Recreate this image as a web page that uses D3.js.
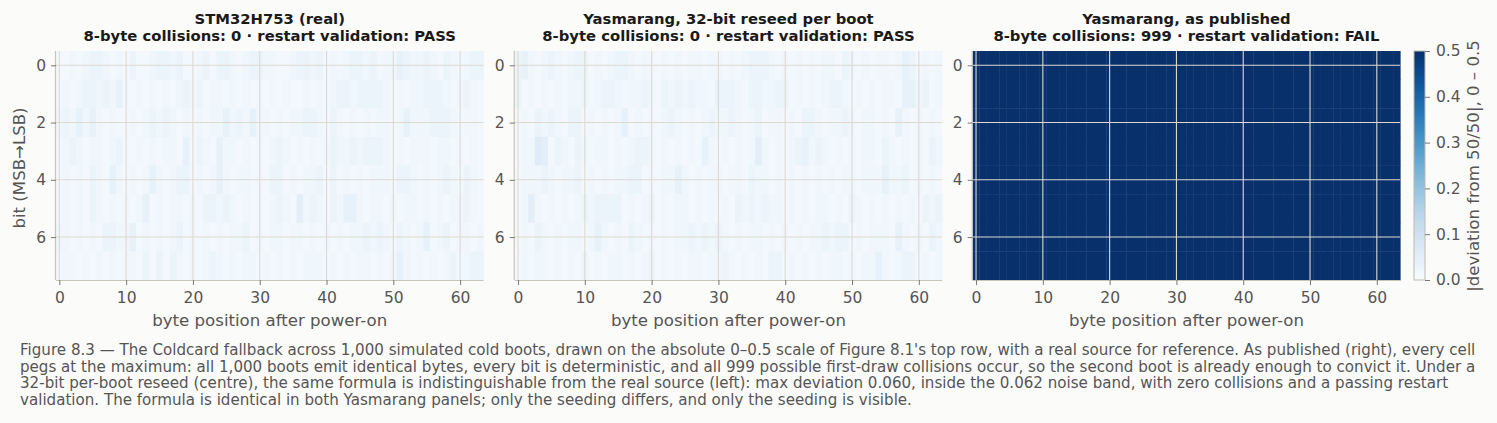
<!DOCTYPE html>
<html>
<head>
<meta charset="utf-8">
<script src="https://cdn.jsdelivr.net/npm/d3@7/dist/d3.min.js"></script>
<style>
  html, body { margin: 0; padding: 0; background: #fbfbf9; }
  svg { display: block; }
</style>
</head>
<body>
<script>
// bit rows (MSB -> LSB), 64 byte positions each; one digit = 0.01 of |deviation|
var realRows = [
  "11212332 12131123 32311231 33212332 21123323 12123323 12243223 21321233",
  "12123323 24112121 21232312 21212121 21211212 12332333 32121223 33212321",
  "23242421 21121232 32121212 24232422 12122332 13212121 22124222 33321221",
  "12321221 23112121 22141321 42212121 23212121 23223233 32121222 12212121",
  "12121321 42121242 12331212 42122121 33121223 13121212 22133212 12321321",
  "12121321 21212412 12212133 23212121 23215232 13244212 21212212 12122321",
  "22121213 32241212 12312121 21223121 22122121 21212232 32132124 12312212",
  "12212121 21221313 13212123 21212212 12121222 12121221 21242121 21231233"
];

var reseedRows = [
  "34212321 23312123 32122121 21221221 21233321 21212122 13212122 12431212",
  "31212121 22312332 12232132 32322133 32133223 31212123 32121212 21442312",
  "12132321 33121212 41212123 21212322 32123122 12133212 23212212 14212121",
  "12265132 13212212 12332121 21214212 12125212 12342321 21212213 21212132",
  "12223212 23121212 23312122 42121221 22132212 12121212 12212224 22312121",
  "12521212 12323333 12123121 22121212 13232322 12121221 21321212 12121323",
  "12132121 22124212 13212121 22323232 12122121 21212232 33121222 14212132",
  "12122121 21312122 12123121 21221223 21212133 12121212 21212242 12331212"
];

// as published: every bit deterministic, every cell at the maximum (digit = 0.1)
var publishedRows = [
  "55555555 55555555 55555555 55555555 55555555 55555555 55555555 55555555",
  "55555555 55555555 55555555 55555555 55555555 55555555 55555555 55555555",
  "55555555 55555555 55555555 55555555 55555555 55555555 55555555 55555555",
  "55555555 55555555 55555555 55555555 55555555 55555555 55555555 55555555",
  "55555555 55555555 55555555 55555555 55555555 55555555 55555555 55555555",
  "55555555 55555555 55555555 55555555 55555555 55555555 55555555 55555555",
  "55555555 55555555 55555555 55555555 55555555 55555555 55555555 55555555",
  "55555555 55555555 55555555 55555555 55555555 55555555 55555555 55555555"
];
var digitScale = [0.01, 0.01, 0.1];

var panelTitles = [
  ["STM32H753 (real)", "8-byte collisions: 0 \u00b7 restart validation: PASS"],
  ["Yasmarang, 32-bit reseed per boot", "8-byte collisions: 0 \u00b7 restart validation: PASS"],
  ["Yasmarang, as published", "8-byte collisions: 999 \u00b7 restart validation: FAIL"]
];
var xTicks = [0, 10, 20, 30, 40, 50, 60];
var yTicks = [0, 2, 4, 6];
var cbarTicks = [0.0, 0.1, 0.2, 0.3, 0.4, 0.5];

var captionLines = [
  "Figure 8.3 \u2014 The Coldcard fallback across 1,000 simulated cold boots, drawn on the absolute 0\u20130.5 scale of Figure 8.1's top row, with a real source for reference. As published (right), every cell",
  "pegs at the maximum: all 1,000 boots emit identical bytes, every bit is deterministic, and all 999 possible first-draw collisions occur, so the second boot is already enough to convict it. Under a",
  "32-bit per-boot reseed (centre), the same formula is indistinguishable from the real source (left): max deviation 0.060, inside the 0.062 noise band, with zero collisions and a passing restart",
  "validation. The formula is identical in both Yasmarang panels; only the seeding differs, and only the seeding is visible."
];

/*
 * helpers
 */
var translate = function(x, y) {
  return "translate(" + x + ", " + y + ") ";
};

var parseRows = function(rows, k) {
  var cells = [];
  rows.forEach(function(row, r) {
    row.replace(/ /g, "").split("").forEach(function(ch, c) {
      cells.push({ row: r, col: c, value: +ch * k });
    });
  });
  return cells;
};

var panels = [realRows, reseedRows, publishedRows].map(function(rows, i) {
  return parseRows(rows, digitScale[i]);
});

var width = 1497, height = 423;
var font = "DejaVu Sans, sans-serif";
var textColor = "#555555";
var gridColor = "#ddd9cf";
var spineColor = "#c9c4b8";
var tickFont = "15.5px";
var labelFont = "16.6px";

var plotTop = 51, plotBottom = 280, plotWidth = 427.5;
var plotLefts = [56, 514.7, 972.7];

var color = d3.scaleSequential(d3.interpolateBlues).domain([0, 0.5]);
var y = d3.scaleLinear().domain([-0.5, 7.5]).range([plotTop, plotBottom]);

var svg = d3.select("body").append("svg")
  .attr("width", width)
  .attr("height", height)
  .style("font-family", font);

svg.append("rect")
  .attr("width", width)
  .attr("height", height)
  .style("fill", "#fbfbf9");

panels.forEach(function(cells, i) {
  var left = plotLefts[i];
  var x = d3.scaleLinear().domain([-0.5, 63.5]).range([left, left + plotWidth]);
  var g = svg.append("g");

  g.selectAll(".cell")
    .data(cells)
    .enter()
    .append("rect")
      .attr("class", "cell")
      .attr("x", function(d) { return x(d.col - 0.5); })
      .attr("y", function(d) { return y(d.row - 0.5); })
      .attr("width", x(1) - x(0) + 0.4)
      .attr("height", y(1) - y(0) + 0.4)
      .style("fill", function(d) { return color(d.value); });

  // grid sits on top of the cells
  g.selectAll(".vgrid")
    .data(xTicks)
    .enter()
    .append("line")
      .attr("x1", function(d) { return x(d); })
      .attr("x2", function(d) { return x(d); })
      .attr("y1", plotTop)
      .attr("y2", plotBottom)
      .style("stroke", gridColor)
      .style("stroke-width", 1.1);

  g.selectAll(".hgrid")
    .data(yTicks)
    .enter()
    .append("line")
      .attr("x1", left)
      .attr("x2", left + plotWidth)
      .attr("y1", function(d) { return y(d); })
      .attr("y2", function(d) { return y(d); })
      .style("stroke", gridColor)
      .style("stroke-width", 1.1);

  var xAxis = g.append("g")
    .attr("transform", translate(0, plotBottom))
    .call(d3.axisBottom(x).tickValues(xTicks).tickSize(5).tickPadding(9));
  var yAxis = g.append("g")
    .attr("transform", translate(left, 0))
    .call(d3.axisLeft(y).tickValues(yTicks).tickSize(5).tickPadding(5));

  [xAxis, yAxis].forEach(function(a) {
    a.select(".domain").style("stroke", spineColor).style("stroke-width", 1.2);
    a.selectAll(".tick line").style("stroke", "#777");
    a.selectAll(".tick text")
      .style("font-family", font)
      .style("font-size", tickFont)
      .style("fill", textColor);
  });
  xAxis.selectAll(".tick text").attr("dy", "0.6em");
  xAxis.select(".domain").attr("d", "M" + left + ",0.5H" + (left + plotWidth));
  yAxis.select(".domain").attr("d", "M-0.5," + plotTop + "V" + plotBottom);

  g.append("text")
    .attr("x", left + plotWidth / 2)
    .attr("y", 326)
    .attr("text-anchor", "middle")
    .style("font-size", labelFont)
    .style("fill", textColor)
    .text("byte position after power-on");

  g.selectAll(".title")
    .data(panelTitles[i])
    .enter()
    .append("text")
      .attr("x", left + plotWidth / 2)
      .attr("y", function(d, k) { return 23.5 + k * 17.5; })
      .attr("text-anchor", "middle")
      .style("font-size", "14.8px")
      .style("font-weight", "bold")
      .style("fill", "#1a1a1a")
      .text(function(d) { return d; });
});

svg.append("text")
  .attr("transform", translate(25, 168) + "rotate(-90)")
  .attr("text-anchor", "middle")
  .style("font-size", labelFont)
  .style("fill", textColor)
  .text("bit (MSB\u2192LSB)");

// colour bar
var cbLeft = 1414, cbWidth = 11;
var cbScale = d3.scaleLinear().domain([0, 0.5]).range([plotBottom, plotTop]);
var grad = svg.append("defs").append("linearGradient")
  .attr("id", "cbar")
  .attr("x1", 0).attr("y1", 1).attr("x2", 0).attr("y2", 0);
grad.selectAll("stop")
  .data(d3.range(0, 1.0001, 0.05))
  .enter()
  .append("stop")
    .attr("offset", function(d) { return d; })
    .attr("stop-color", function(d) { return color(d * 0.5); });

svg.append("rect")
  .attr("x", cbLeft)
  .attr("y", plotTop)
  .attr("width", cbWidth)
  .attr("height", plotBottom - plotTop)
  .style("fill", "url(#cbar)")
  .style("stroke", "#bdbab0")
  .style("stroke-width", 1);

var cbAxis = svg.append("g")
  .attr("transform", translate(cbLeft + cbWidth, 0))
  .call(d3.axisRight(cbScale).tickValues(cbarTicks).tickFormat(d3.format(".1f")).tickSize(5).tickPadding(6));
cbAxis.select(".domain").remove();
cbAxis.selectAll(".tick line").style("stroke", "#777");
cbAxis.selectAll(".tick text")
  .style("font-family", font)
  .style("font-size", tickFont)
  .style("fill", textColor);

svg.append("text")
  .attr("transform", translate(1479, 166) + "rotate(-90)")
  .attr("text-anchor", "middle")
  .style("font-size", labelFont)
  .style("fill", textColor)
  .text("|deviation from 50/50|, 0 \u2013 0.5");

svg.selectAll(".caption")
  .data(captionLines)
  .enter()
  .append("text")
    .attr("class", "caption")
    .attr("x", 20)
    .attr("y", function(d, k) { return 355 + k * 16.7; })
    .style("font-size", "15.1px")
    .style("fill", textColor)
    .text(function(d) { return d; });
</script>
</body>
</html>
